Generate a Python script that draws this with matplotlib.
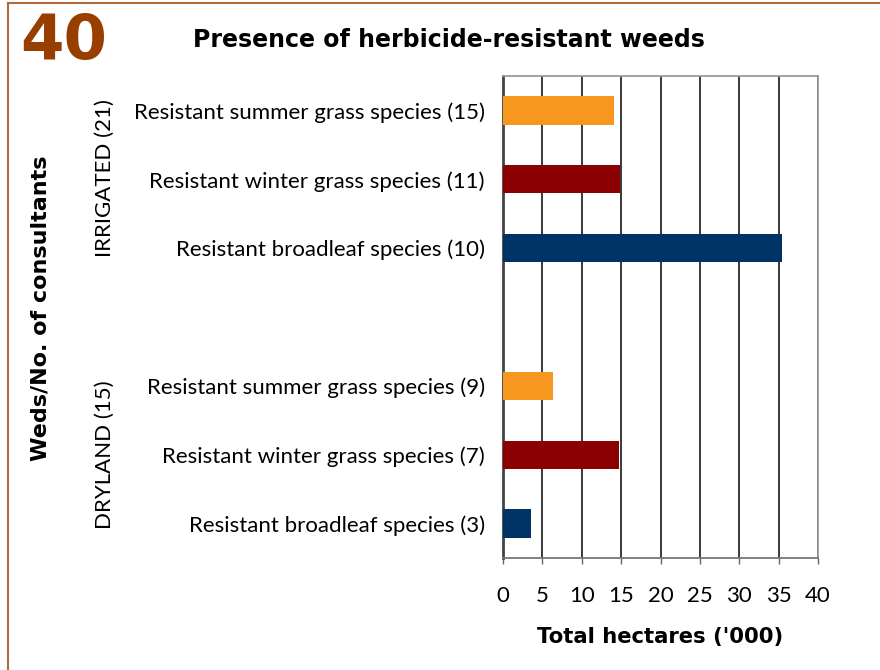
import numpy as np
import matplotlib.pyplot as plt
from matplotlib.lines import Line2D

plt.rcParams['font.family'] = ['Lato', 'DejaVu Sans']
BOLD = ['DejaVu Sans']

# categories listed top to bottom; the blank one separates the two groups
categories = ['Resistant summer grass species (15)',
              'Resistant winter grass species (11)',
              'Resistant broadleaf species (10)',
              '',
              'Resistant summer grass species (9)',
              'Resistant winter grass species (7)',
              'Resistant broadleaf species (3)']
values = [14.1, 14.8, 35.4, 0, 6.3, 14.7, 3.5]
bar_colors = ['#F7971F', '#8B0000', '#003366', 'none', '#F7971F', '#8B0000', '#003366']
group_labels = ['IRRIGATED (21)', 'DRYLAND (15)']
x_ticks = [0, 5, 10, 15, 20, 25, 30, 35, 40]

fig = plt.figure(figsize=(8.8, 6.7), dpi=100)
ax = fig.add_axes([503 / 880, 1 - 558 / 670, 315 / 880, 482 / 670])

y = np.arange(len(categories))
ax.barh(y, values, height=0.41, color=bar_colors, zorder=3)
ax.set_ylim(len(categories) - 0.5, -0.5)
ax.set_xlim(0, 40)
ax.set_xticks(x_ticks)
ax.set_xticklabels([str(t) for t in x_ticks], fontsize=16)
ax.set_yticks(y)
ax.set_yticklabels(categories, fontsize=16)
ax.tick_params(axis='y', length=0, pad=13)
ax.tick_params(axis='x', length=4, width=1, color='#666666', pad=16)

ax.grid(axis='x', color='#2a2a2a', linewidth=1.3, zorder=0)
for s in ['top', 'right']:
    ax.spines[s].set_color('#999999')
    ax.spines[s].set_linewidth(1.3)
ax.spines['left'].set_color('#444444')
ax.spines['left'].set_linewidth(2)
ax.spines['bottom'].set_color('#777777')
ax.spines['bottom'].set_linewidth(1.3)

ax.set_xlabel("Total hectares ('000)", fontsize=15.2, fontweight='bold', family=BOLD,
              labelpad=15)

# group labels and y title
fig.text(105 / 880, 1 - 178 / 670, group_labels[0], rotation=90, fontsize=16,
         ha='center', va='center')
fig.text(105 / 880, 1 - 455 / 670, group_labels[1], rotation=90, fontsize=16,
         ha='center', va='center')
fig.text(40 / 880, 1 - 308 / 670, 'Weds/No. of consultants', rotation=90, fontsize=16,
         fontweight='bold', family=BOLD, ha='center', va='center')

fig.text(449 / 880, 1 - 40 / 670, 'Presence of herbicide-resistant weeds', fontsize=17,
         fontweight='bold', family=BOLD, ha='center', va='center')
fig.text(20 / 880, 1 - 42 / 670, '40', fontsize=45, fontweight='bold', family=BOLD,
         color='#983F00', ha='left', va='center')

# brown page frame
fig.add_artist(Line2D([8 / 880, 8 / 880], [0, 1 - 3 / 670], transform=fig.transFigure,
                      color='#B0693A', linewidth=1.5))
fig.add_artist(Line2D([8 / 880, 1], [1 - 3 / 670, 1 - 3 / 670], transform=fig.transFigure,
                      color='#B0693A', linewidth=1.5))

fig.savefig('out.png', dpi=100)
